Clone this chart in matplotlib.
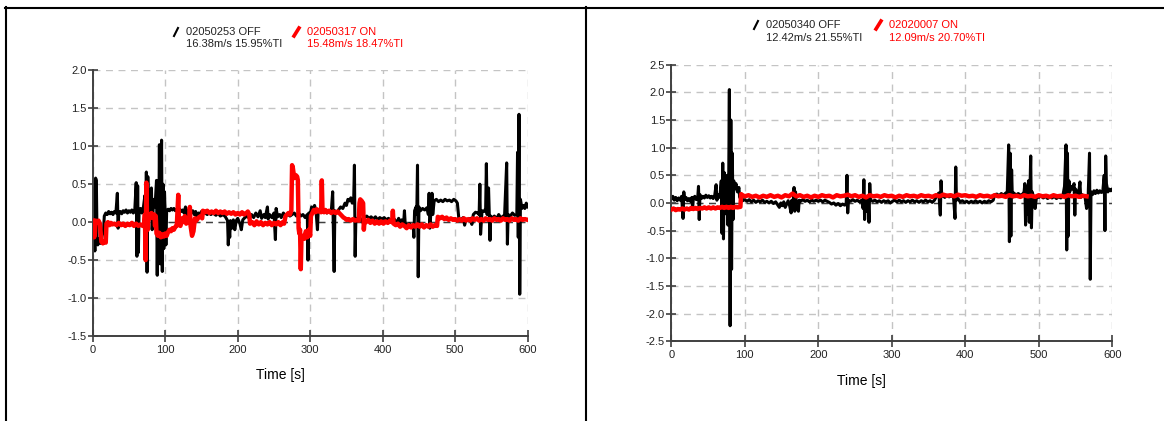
import matplotlib
matplotlib.use('Agg')
import matplotlib.pyplot as plt
from matplotlib.lines import Line2D

plt.rcParams['font.family'] = ['Liberation Sans', 'DejaVu Sans']

# ---- Data ----
xticks = [0, 100, 200, 300, 400, 500, 600]
yticks_left = [-1.5, -1.0, -0.5, 0.0, 0.5, 1.0, 1.5, 2.0]
yticks_right = [-2.5, -2.0, -1.5, -1.0, -0.5, 0.0, 0.5, 1.0, 1.5, 2.0, 2.5]

legend_left = ['02050253 OFF', '16.38m/s 15.95%TI', '02050317 ON', '15.48m/s 18.47%TI']
legend_right = ['02050340 OFF', '12.42m/s 21.55%TI', '02020007 ON', '12.09m/s 20.70%TI']

# left panel, OFF (black)
t_off_1 = [0, 1, 2, 3, 4, 5, 6, 7, 9, 11, 13, 15, 16, 18, 20, 22, 24, 26, 28, 30,
           32, 34, 35, 36, 38, 40, 42, 44, 46, 48, 50, 52, 54, 56, 58, 60, 61, 62, 63, 64,
           66, 68, 70, 72, 73, 74, 75, 76, 77, 78, 80, 81, 82, 84, 86, 88, 89, 90, 91, 92,
           93, 94, 95, 96, 97, 98, 99, 100, 101, 102, 104, 106, 108, 110, 112, 114, 116, 118, 120, 122,
           124, 126, 128, 129, 130, 132, 134, 136, 138, 140, 142, 144, 146, 148, 150, 152, 155, 158, 160, 163,
           166, 170, 173, 176, 180, 183, 186, 187, 188, 189, 190, 192, 194, 196, 198, 200, 203, 205, 207, 210,
           213, 216, 219, 222, 225, 228, 231, 233, 236, 238, 241, 242, 244, 247, 250, 252, 253, 255, 258, 260,
           263, 266, 269, 272, 275, 278, 281, 284, 287, 290, 293, 296, 297, 298, 300, 302, 304, 306, 308, 310,
           311, 314, 317, 320, 323, 326, 329, 331, 333, 334, 336, 339, 342, 345, 348, 350, 352, 354, 356, 358,
           360, 361, 362, 363, 366, 369, 372, 375, 378, 381, 384, 387, 390, 393, 396, 399, 402, 405, 408, 411,
           414, 417, 420, 422, 424, 426, 429, 430, 431, 434, 437, 440, 442, 443, 444, 446, 447, 448, 449, 450,
           452, 455, 458, 461, 463, 464, 465, 467, 468, 469, 471, 474, 477, 480, 483, 486, 489, 492, 495, 498,
           501, 503, 505, 508, 511, 513, 515, 518, 521, 523, 525, 528, 531, 533, 534, 535, 537, 540, 542, 543,
           544, 546, 548, 549, 551, 554, 557, 560, 563, 566, 568, 571, 572, 573, 576, 579, 582, 585, 586, 587,
           588, 589, 590, 592, 594, 596, 598, 600]
v_off_1 = [0.30, 0.45, 0.10, -0.38, 0.58, 0.55, -0.20, -0.30, -0.22, -0.28, -0.18, -0.10, 0.08, 0.12, 0.10, 0.14, 0.11, 0.13, 0.10, 0.14,
           0.12, 0.38, -0.08, 0.12, 0.14, 0.11, 0.15, 0.13, 0.16, 0.12, 0.15, 0.13, 0.16, 0.12, 0.15, 0.52, -0.45, 0.48, -0.40, 0.15,
           0.18, 0.12, 0.20, 0.35, -0.30, 0.66, -0.66, 0.60, 0.15, 0.30, 0.10, 0.45, -0.10, 0.30, 0.20, 0.55, -0.70, 0.30, -0.20, 1.02,
           -0.55, 0.40, 1.08, -0.65, 0.50, -0.35, 0.40, 0.10, -0.30, 0.15, 0.17, 0.15, 0.18, 0.16, 0.18, 0.15, 0.17, 0.14, 0.17, 0.14,
           0.16, 0.12, 0.20, 0.05, 0.16, 0.13, 0.18, 0.12, 0.15, 0.10, 0.14, 0.05, 0.12, 0.10, 0.14, 0.11, 0.12, 0.10, 0.13, 0.10,
           0.12, 0.09, 0.12, 0.08, 0.10, 0.07, 0.02, -0.30, -0.05, -0.20, 0.02, -0.08, 0.03, -0.10, 0.02, 0.05, -0.02, -0.10, 0.03, 0.06,
           0.08, 0.05, 0.10, 0.06, 0.12, 0.07, 0.15, 0.05, 0.10, 0.06, 0.20, 0.04, 0.10, 0.06, 0.12, -0.23, 0.18, 0.07, 0.10, 0.06,
           0.12, 0.08, 0.11, 0.08, 0.10, 0.12, 0.08, 0.12, 0.08, 0.10, 0.06, 0.10, -0.50, 0.12, 0.10, 0.20, 0.14, 0.22, 0.15, -0.10,
           0.15, 0.18, 0.14, 0.16, 0.12, 0.15, 0.13, 0.40, -0.65, 0.15, 0.12, 0.16, 0.20, 0.18, 0.25, 0.22, 0.30, 0.28, 0.32, 0.25,
           0.30, 0.75, -0.45, 0.05, 0.02, 0.05, 0.00, 0.06, 0.08, 0.05, 0.07, 0.04, 0.07, 0.03, 0.06, 0.04, 0.06, 0.03, 0.05, 0.02,
           0.05, 0.03, -0.02, 0.05, -0.05, 0.03, 0.00, 0.15, -0.02, -0.04, -0.02, -0.06, -0.03, -0.20, 0.15, 0.20, 0.10, 0.75, -0.72, 0.20,
           0.15, 0.18, 0.16, 0.19, 0.10, 0.38, -0.08, 0.20, 0.38, 0.10, 0.28, 0.30, 0.27, 0.29, 0.27, 0.30, 0.28, 0.29, 0.27, 0.30,
           0.28, 0.25, 0.05, 0.03, 0.06, -0.04, 0.04, 0.02, 0.05, -0.03, 0.10, 0.13, 0.12, 0.10, 0.50, -0.16, 0.15, 0.14, 0.18, 0.77,
           0.10, 0.45, -0.24, 0.08, 0.05, 0.08, 0.04, 0.10, 0.05, 0.08, 0.06, 0.78, -0.29, 0.10, 0.08, 0.12, 0.09, 0.10, 0.92, -0.20,
           1.42, -0.95, 0.30, 0.18, 0.22, 0.18, 0.25, 0.20]

# left panel, ON (red)
t_on_1 = [0, 1, 2, 3, 4, 6, 8, 10, 12, 14, 16, 18, 19, 21, 23, 25, 27, 30, 33, 36,
          39, 42, 45, 48, 51, 54, 57, 60, 63, 66, 69, 71, 72, 73, 74, 75, 76, 77, 79, 81,
          83, 85, 86, 87, 88, 90, 92, 94, 96, 98, 100, 102, 104, 106, 108, 110, 112, 114, 116, 118,
          119, 121, 123, 125, 127, 129, 131, 133, 134, 135, 137, 139, 141, 143, 146, 149, 151, 152, 155, 158,
          161, 164, 167, 170, 173, 176, 179, 182, 185, 188, 191, 194, 197, 200, 203, 206, 209, 212, 214, 216,
          217, 220, 223, 226, 229, 232, 235, 238, 241, 244, 247, 250, 253, 256, 259, 262, 264, 266, 268, 270,
          272, 274, 275, 276, 278, 280, 282, 283, 284, 285, 286, 287, 288, 290, 292, 294, 296, 298, 300, 301,
          303, 305, 307, 309, 311, 313, 315, 316, 317, 319, 321, 323, 326, 329, 332, 335, 338, 340, 342, 344,
          346, 348, 350, 353, 356, 359, 362, 365, 367, 368, 369, 371, 373, 374, 375, 377, 380, 383, 386, 389,
          392, 395, 398, 401, 404, 407, 410, 413, 414, 415, 418, 421, 424, 427, 430, 433, 436, 439, 442, 445,
          448, 451, 454, 457, 460, 463, 466, 469, 472, 475, 476, 479, 482, 485, 488, 491, 494, 497, 500, 503,
          506, 509, 512, 515, 518, 521, 524, 527, 530, 533, 536, 539, 542, 545, 548, 551, 554, 557, 560, 563,
          566, 569, 572, 575, 578, 581, 584, 587, 590, 593, 596, 600]
v_on_1 = [0.02, -0.05, -0.20, -0.15, 0.02, 0.00, 0.02, -0.02, -0.26, -0.28, -0.25, -0.27, -0.02, 0.00, -0.04, -0.01, -0.03, -0.02, -0.04, -0.01,
          -0.04, -0.02, -0.05, -0.02, -0.04, -0.01, -0.05, -0.02, -0.05, -0.03, -0.05, -0.02, 0.10, -0.50, 0.52, 0.05, -0.10, 0.10, 0.05, 0.12,
          0.06, 0.10, -0.05, 0.08, -0.15, -0.18, -0.14, -0.20, -0.16, -0.19, -0.15, -0.18, -0.13, -0.10, -0.12, -0.08, -0.10, -0.06, -0.05, 0.36,
          0.00, -0.05, 0.05, 0.00, 0.08, -0.02, 0.05, 0.00, 0.20, -0.05, -0.18, -0.12, 0.05, 0.02, 0.06, 0.08, 0.05, 0.15, 0.13, 0.15,
          0.12, 0.14, 0.12, 0.15, 0.12, 0.14, 0.12, 0.14, 0.11, 0.13, 0.11, 0.13, 0.10, 0.12, 0.10, 0.13, 0.10, 0.12, 0.14, 0.10,
          -0.02, 0.00, -0.04, 0.01, -0.03, 0.00, -0.04, -0.01, -0.03, 0.00, -0.04, -0.01, -0.03, 0.00, -0.04, 0.00, -0.02, 0.08, 0.10, 0.12,
          0.10, 0.15, 0.75, 0.72, 0.58, 0.62, 0.60, 0.55, -0.08, -0.15, -0.10, -0.62, -0.20, -0.18, -0.22, -0.12, -0.20, -0.10, -0.18, 0.08,
          0.12, 0.16, 0.13, 0.17, 0.14, 0.16, 0.13, 0.55, 0.15, 0.13, 0.16, 0.13, 0.15, 0.12, 0.14, 0.12, 0.14, 0.12, 0.10, 0.08,
          0.06, 0.05, 0.03, 0.04, 0.02, 0.04, 0.02, 0.03, 0.02, 0.25, 0.30, 0.28, 0.25, -0.10, 0.02, 0.00, 0.03, -0.01, 0.02, -0.02,
          0.01, -0.02, 0.01, -0.02, 0.01, -0.01, 0.02, 0.00, 0.15, -0.02, -0.04, -0.02, -0.06, -0.03, -0.05, -0.08, -0.04, -0.07, -0.04, -0.06,
          -0.03, -0.06, -0.03, -0.07, -0.04, -0.06, -0.03, -0.06, -0.04, -0.05, 0.07, 0.05, 0.07, 0.04, 0.06, 0.03, 0.05, 0.03, 0.04, 0.02,
          0.04, 0.02, 0.05, 0.02, 0.04, 0.02, 0.05, 0.03, 0.05, 0.02, 0.04, 0.02, 0.05, 0.03, 0.04, 0.02, 0.05, 0.03, 0.04, 0.02,
          0.05, 0.03, 0.04, 0.02, 0.05, 0.03, 0.04, 0.02, 0.05, 0.03, 0.04, 0.03]

# right panel, OFF (black)
t_off_2 = [0, 2, 4, 6, 8, 10, 12, 14, 16, 17, 18, 20, 22, 24, 26, 28, 29, 30, 32, 34,
           36, 37, 38, 39, 41, 43, 45, 47, 49, 51, 53, 55, 57, 59, 61, 62, 64, 66, 68, 69,
           70, 71, 72, 73, 74, 75, 76, 77, 78, 79, 80, 81, 82, 83, 84, 85, 86, 88, 90, 92,
           93, 95, 97, 100, 103, 106, 109, 112, 115, 118, 121, 124, 127, 130, 133, 136, 139, 142, 145, 147,
           149, 151, 153, 155, 157, 159, 161, 163, 164, 166, 167, 168, 169, 170, 172, 173, 174, 176, 179, 182,
           185, 188, 191, 194, 197, 200, 203, 206, 209, 212, 215, 218, 221, 224, 227, 230, 233, 236, 238, 239,
           240, 241, 244, 247, 250, 253, 256, 259, 261, 262, 263, 264, 266, 268, 269, 270, 271, 274, 277, 280,
           283, 286, 289, 292, 295, 298, 301, 304, 307, 310, 313, 316, 319, 322, 325, 328, 331, 334, 337, 340,
           343, 346, 349, 352, 355, 358, 360, 362, 364, 366, 367, 368, 370, 372, 375, 378, 381, 384, 386, 387,
           388, 390, 393, 396, 399, 402, 405, 408, 411, 414, 417, 420, 423, 426, 429, 432, 435, 438, 440, 443,
           446, 449, 452, 455, 457, 459, 460, 461, 462, 463, 464, 466, 469, 472, 475, 478, 480, 481, 482, 483,
           485, 486, 487, 488, 489, 490, 491, 493, 495, 497, 500, 503, 506, 509, 512, 515, 518, 521, 524, 527,
           530, 533, 535, 537, 538, 539, 540, 541, 542, 544, 546, 548, 549, 550, 552, 554, 556, 557, 559, 561,
           563, 565, 567, 569, 570, 571, 573, 575, 577, 579, 581, 583, 585, 587, 589, 590, 591, 592, 594, 596,
           598, 600]
v_off_2 = [0.08, 0.12, 0.05, 0.10, 0.04, 0.09, 0.05, 0.12, -0.28, 0.20, 0.06, 0.10, 0.04, 0.08, 0.03, 0.10, -0.10, 0.08, 0.12, 0.06,
           0.10, 0.30, -0.30, 0.15, 0.08, 0.12, 0.09, 0.14, 0.10, 0.13, 0.09, 0.12, 0.08, 0.13, 0.33, 0.05, 0.15, 0.10, 0.40, -0.55,
           0.72, -0.65, 0.55, 0.00, 0.30, -0.20, 0.50, -0.40, 0.20, 2.05, -2.22, 1.50, -1.20, 0.90, -0.30, 0.40, 0.25, 0.35, 0.20, 0.28,
           0.10, 0.15, 0.04, 0.06, 0.03, 0.06, 0.02, 0.05, 0.01, 0.04, 0.02, 0.05, 0.01, 0.03, 0.00, 0.03, -0.01, 0.02, -0.04, -0.08,
           0.00, -0.05, 0.02, -0.08, -0.02, 0.04, -0.05, -0.18, 0.05, -0.12, 0.28, -0.15, 0.20, 0.02, -0.10, -0.15, 0.05, 0.03, 0.06, 0.03,
           0.05, 0.02, 0.05, 0.03, 0.05, 0.03, 0.05, 0.02, 0.05, 0.03, 0.01, -0.02, 0.00, -0.04, -0.01, -0.05, -0.02, -0.04, 0.00, 0.50,
           -0.18, 0.05, 0.03, 0.06, 0.03, 0.05, 0.02, 0.05, -0.10, 0.42, -0.30, 0.10, -0.15, 0.05, -0.35, 0.35, 0.05, 0.03, 0.05, 0.02,
           0.04, 0.01, 0.04, 0.02, 0.04, 0.00, 0.03, 0.05, 0.02, 0.05, 0.02, 0.04, 0.01, 0.04, 0.02, 0.05, 0.02, 0.04, 0.01, 0.04,
           0.02, 0.05, 0.02, 0.04, 0.01, 0.05, 0.10, 0.15, 0.18, -0.22, 0.40, 0.12, 0.15, 0.10, 0.14, 0.11, 0.13, 0.10, -0.28, 0.65,
           0.05, 0.08, 0.02, 0.04, 0.01, 0.03, 0.00, 0.03, 0.01, 0.04, 0.01, 0.03, 0.00, 0.03, 0.01, 0.04, 0.02, 0.05, 0.15, 0.16,
           0.13, 0.17, 0.14, 0.18, 0.15, 1.05, -0.70, 0.90, -0.60, 0.60, 0.10, 0.18, 0.14, 0.17, 0.14, 0.16, 0.20, 0.35, -0.40, 0.30,
           -0.20, 0.40, -0.35, 0.25, 0.85, -0.45, 0.20, 0.10, -0.10, 0.12, 0.10, 0.13, 0.09, 0.12, 0.08, 0.11, 0.09, 0.12, 0.08, 0.11,
           0.09, 0.15, 0.30, 1.05, -0.85, 0.90, -0.60, 0.40, 0.20, 0.30, 0.25, 0.35, -0.22, 0.25, 0.20, 0.15, 0.38, 0.10, 0.15, 0.12,
           0.10, -0.10, 0.05, 0.90, -1.38, 0.20, 0.15, 0.22, 0.17, 0.23, 0.18, 0.22, 0.19, 0.20, 0.50, -0.50, 0.85, 0.35, 0.20, 0.25,
           0.22, 0.25]

# right panel, ON (red)
t_on_2 = [0, 3, 6, 9, 12, 15, 18, 21, 24, 27, 30, 33, 36, 39, 42, 45, 48, 51, 54, 57,
          60, 63, 66, 69, 72, 75, 78, 81, 84, 87, 90, 94, 95, 97, 100, 105, 110, 115, 120, 125,
          130, 135, 140, 145, 150, 155, 160, 165, 170, 175, 180, 185, 190, 195, 200, 205, 210, 215, 220, 225,
          230, 235, 240, 245, 250, 255, 260, 265, 270, 275, 280, 285, 290, 295, 300, 305, 310, 315, 320, 325,
          330, 335, 340, 345, 350, 355, 360, 365, 370, 375, 380, 385, 390, 395, 400, 405, 410, 415, 420, 425,
          430, 435, 440, 445, 450, 455, 460, 465, 470, 475, 480, 485, 490, 495, 500, 505, 510, 515, 520, 525,
          530, 535, 540, 545, 550, 555, 560, 565]
v_on_2 = [-0.12, -0.10, -0.13, -0.11, -0.12, -0.10, -0.12, -0.10, -0.12, -0.09, -0.11, -0.09, -0.11, -0.09, -0.10, -0.08, -0.10, -0.08, -0.10, -0.08,
          -0.10, -0.08, -0.09, -0.07, -0.09, -0.07, -0.09, -0.07, -0.09, -0.07, -0.08, -0.07, 0.16, 0.14, 0.12, 0.14, 0.11, 0.13, 0.10, 0.13,
          0.11, 0.14, 0.11, 0.13, 0.10, 0.14, 0.12, 0.17, 0.12, 0.14, 0.11, 0.13, 0.10, 0.13, 0.11, 0.14, 0.12, 0.13, 0.10, 0.14,
          0.12, 0.13, 0.15, 0.12, 0.14, 0.11, 0.13, 0.10, 0.14, 0.12, 0.13, 0.11, 0.14, 0.12, 0.13, 0.10, 0.13, 0.11, 0.14, 0.12,
          0.13, 0.11, 0.14, 0.12, 0.13, 0.11, 0.14, 0.12, 0.15, 0.13, 0.14, 0.12, 0.15, 0.13, 0.14, 0.12, 0.13, 0.11, 0.14, 0.12,
          0.13, 0.11, 0.14, 0.12, 0.13, 0.11, 0.14, 0.12, 0.13, 0.11, 0.14, 0.12, 0.13, 0.11, 0.14, 0.12, 0.13, 0.11, 0.14, 0.12,
          0.13, 0.11, 0.14, 0.12, 0.13, 0.11, 0.13, 0.12]

W, H = 1164, 421
fig = plt.figure(figsize=(W / 100, H / 100), dpi=100)


def fx(px):
    return px / W


def fy(py):
    return 1 - py / H


def draw_panel(box, t_off, v_off, t_on, v_on, yticks, ylim):
    ax = fig.add_axes(box)
    ax.axhline(0, color='#404040', lw=1.0, dashes=(5, 4), zorder=1)
    ax.plot(t_off, v_off, color='black', lw=2.2, zorder=2)
    ax.plot(t_on, v_on, color='#ff0000', lw=3.2, zorder=3)
    ax.set_xlim(0, 600)
    ax.set_ylim(*ylim)
    ax.set_xticks(xticks)
    ax.set_yticks(yticks)
    ax.set_yticklabels(['%.1f' % v for v in yticks])
    ax.grid(True, color='#c4c4c4', lw=1.0, dashes=(5, 4))
    ax.set_axisbelow(True)
    for s in ['top', 'right']:
        ax.spines[s].set_visible(False)
    for s in ['left', 'bottom']:
        ax.spines[s].set_color('#404040')
        ax.spines[s].set_linewidth(1.4)
    ax.tick_params(axis='both', direction='inout', colors='#404040', labelcolor='#222222',
                   labelsize=8, width=1.2)
    ax.tick_params(axis='y', length=7, pad=1)
    ax.tick_params(axis='x', length=9, pad=2)
    return ax


# ---- Left panel ----
draw_panel([fx(92.7), fy(336), fx(435), 265.7 / H], t_off_1, v_off_1, t_on_1, v_on_1,
           yticks_left, (-1.5, 2.0))
# ---- Right panel ----
draw_panel([fx(671.3), fy(341.2), fx(441), 276.5 / H], t_off_2, v_off_2, t_on_2, v_on_2,
           yticks_right, (-2.5, 2.5))

# axis titles
fig.text(fx(280), fy(375), 'Time [s]', ha='center', va='center', fontsize=10)
fig.text(fx(861), fy(381), 'Time [s]', ha='center', va='center', fontsize=10)


# legends drawn as text with a small slash marker
def legend(x_black, x_red, y1, y2, labels):
    fig.add_artist(Line2D([fx(x_black - 12), fx(x_black - 8)], [fy(y1 + 4), fy(y1 - 4)],
                          color='black', lw=1.5))
    fig.add_artist(Line2D([fx(x_red - 13), fx(x_red - 8)], [fy(y1 + 4), fy(y1 - 4)],
                          color='#ff0000', lw=2.6))
    fig.text(fx(x_black), fy(y1), labels[0], fontsize=8, va='center', color='#222222')
    fig.text(fx(x_black), fy(y2), labels[1], fontsize=8, va='center', color='#222222')
    fig.text(fx(x_red), fy(y1), labels[2], fontsize=8, va='center', color='#ff0000')
    fig.text(fx(x_red), fy(y2), labels[3], fontsize=8, va='center', color='#ff0000')


legend(186, 307, 32, 44, legend_left)
legend(766, 889, 25, 38, legend_right)

# frame lines around the two panels
fig.add_artist(Line2D([fx(5), fx(W)], [fy(7.5), fy(7.5)], color='black', lw=1.5))
fig.add_artist(Line2D([fx(5.5), fx(5.5)], [fy(7), fy(H)], color='black', lw=1.5))
fig.add_artist(Line2D([fx(585.5), fx(585.5)], [fy(7), fy(H)], color='black', lw=1.5))

plt.savefig('out.png', dpi=100)
plt.close()
